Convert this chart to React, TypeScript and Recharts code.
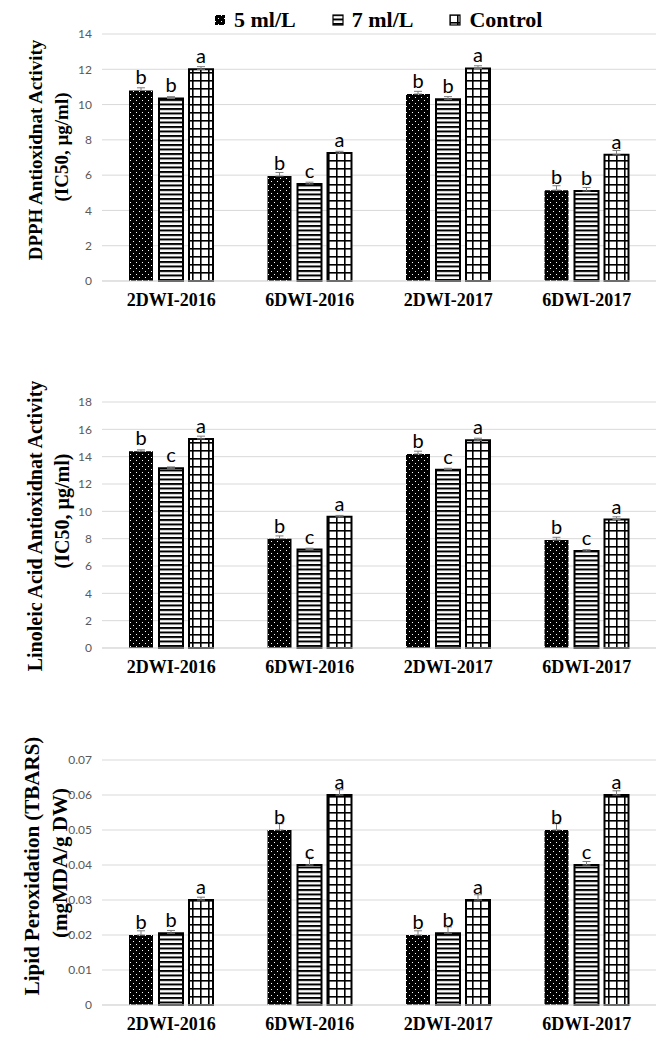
import React from "react";
import { BarChart, Bar, XAxis, YAxis, CartesianGrid, ErrorBar, LabelList } from "recharts";

const categories = ["2DWI-2016", "6DWI-2016", "2DWI-2017", "6DWI-2017"];
const seriesNames = ["5 ml/L", "7 ml/L", "Control"];

// DPPH antioxidant activity (IC50, µg/ml)
const dpph5 = [10.8, 5.95, 10.6, 5.15];
const dpph7 = [10.35, 5.5, 10.3, 5.1];
const dpphCtrl = [12.0, 7.25, 12.05, 7.15];
const dpphErr5 = [0.15, 0.2, 0.15, 0.25];
const dpphErr7 = [0.1, 0.1, 0.15, 0.2];
const dpphErrCtrl = [0.15, 0.1, 0.15, 0.25];
const dpphLet5 = ["b", "b", "b", "b"];
const dpphLet7 = ["b", "c", "b", "b"];
const dpphLetCtrl = ["a", "a", "a", "a"];
const dpphTicks = [0, 2, 4, 6, 8, 10, 12, 14];

// Linoleic acid antioxidant activity (IC50, µg/ml)
const lin5 = [14.4, 8.0, 14.2, 7.9];
const lin7 = [13.15, 7.2, 13.05, 7.1];
const linCtrl = [15.3, 9.6, 15.2, 9.4];
const linErr5 = [0.1, 0.2, 0.2, 0.2];
const linErr7 = [0.1, 0.1, 0.1, 0.1];
const linErrCtrl = [0.2, 0.1, 0.15, 0.2];
const linLet5 = ["b", "b", "b", "b"];
const linLet7 = ["c", "c", "c", "c"];
const linLetCtrl = ["a", "a", "a", "a"];
const linTicks = [0, 2, 4, 6, 8, 10, 12, 14, 16, 18];

// Lipid peroxidation (TBARS, mgMDA/g DW)
const tb5 = [0.02, 0.05, 0.02, 0.05];
const tb7 = [0.0205, 0.04, 0.0205, 0.04];
const tbCtrl = [0.03, 0.06, 0.03, 0.06];
const tbErr5 = [0.0012, 0.0018, 0.0012, 0.0018];
const tbErr7 = [0.0008, 0.0022, 0.0018, 0.001];
const tbErrCtrl = [0.0008, 0.0015, 0.0015, 0.0012];
const tbLet5 = ["b", "b", "b", "b"];
const tbLet7 = ["b", "c", "b", "c"];
const tbLetCtrl = ["a", "a", "a", "a"];
const tbTicks = [0, 0.01, 0.02, 0.03, 0.04, 0.05, 0.06, 0.07];

function buildRows(v5, v7, vc, e5, e7, ec, l5, l7, lc) {
  return categories.map((name, i) => ({
    name,
    v5: v5[i],
    v7: v7[i],
    vc: vc[i],
    e5: [0, e5[i]],
    e7: [0, e7[i]],
    ec: [0, ec[i]],
    l5: l5[i],
    l7: l7[i],
    lc: lc[i],
  }));
}

const serif = "'Liberation Serif', 'Times New Roman', serif";
const sans = "Lato, 'Open Sans', sans-serif";
const gridColor = "#d9d9d9";

function Patterns() {
  return (
    <svg width={0} height={0} style={{ position: "absolute" }}>
      <defs>
        <pattern id="pDots" width={6} height={6} patternUnits="userSpaceOnUse">
          <rect width={6} height={6} fill="#000" />
          <rect x={1} y={1} width={1} height={1} fill="#fff" />
          <rect x={4} y={4} width={1} height={1} fill="#fff" />
        </pattern>
        <pattern id="pLines" width={6} height={4.5} patternUnits="userSpaceOnUse">
          <rect width={6} height={4.5} fill="#fff" />
          <rect y={0} width={6} height={2} fill="#000" />
        </pattern>
        <pattern id="pGrid" width={8} height={8} patternUnits="userSpaceOnUse">
          <rect width={8} height={8} fill="#fff" />
          <rect x={0} y={0} width={1.6} height={8} fill="#000" />
          <rect x={0} y={0} width={8} height={1.6} fill="#000" />
        </pattern>
      </defs>
    </svg>
  );
}

const fills = ["url(#pDots)", "url(#pLines)", "url(#pGrid)"];

function YTitle({ lines, size }) {
  return (
    <g>
      {lines.map((l, i) => (
        <text
          key={i}
          x={l.x}
          y={l.cy}
          transform={`rotate(-90 ${l.x} ${l.cy})`}
          textAnchor="middle"
          dominantBaseline="central"
          fontFamily={serif}
          fontWeight="bold"
          fontSize={size}
          fill="#000"
        >
          {l.text}
        </text>
      ))}
    </g>
  );
}

function Panel({ rows, ticks, top, height, marginTop, marginBottom, titleLines, titleSize }) {
  const keys = [
    ["v5", "e5", "l5"],
    ["v7", "e7", "l7"],
    ["vc", "ec", "lc"],
  ];
  return (
    <div style={{ position: "absolute", left: 0, top, width: 658, height }}>
      <BarChart
        width={658}
        height={height}
        data={rows}
        margin={{ top: marginTop, right: 2, bottom: marginBottom, left: 0 }}
        barSize={24}
        barGap={6}
      >
        <CartesianGrid vertical={false} stroke={gridColor} strokeWidth={1} />
        <XAxis
          dataKey="name"
          height={30}
          tickLine={false}
          axisLine={{ stroke: gridColor }}
          tickMargin={6}
          tick={{ fill: "#000", fontSize: 18, fontWeight: "bold", fontFamily: serif }}
          interval={0}
        />
        <YAxis
          width={102}
          ticks={ticks}
          domain={[ticks[0], ticks[ticks.length - 1]]}
          axisLine={false}
          tickLine={false}
          tickMargin={4}
          tick={{ fill: "#595959", fontSize: 12, fontFamily: sans }}
          interval={0}
          label={<YTitle lines={titleLines} size={titleSize} />}
        />
        {keys.map(([v, e, l], i) => (
          <Bar
            key={v}
            dataKey={v}
            name={seriesNames[i]}
            fill={fills[i]}
            stroke="#000"
            strokeWidth={i === 0 ? 0 : 2}
            isAnimationActive={false}
          >
            <ErrorBar dataKey={e} width={4} stroke="#7f7f7f" strokeWidth={1} direction="y" />
            <LabelList
              dataKey={l}
              position="top"
              offset={6}
              fill="#000"
              fontSize={20}
              fontFamily={sans}
            />
          </Bar>
        ))}
      </BarChart>
    </div>
  );
}

function LegendSwatch({ fill, border }) {
  return (
    <svg width={12} height={12} style={{ display: "block" }}>
      <rect x={1} y={1} width={10} height={10} fill={fill} stroke="#000" strokeWidth={border ? 1.2 : 0} />
    </svg>
  );
}

export default function App() {
  const dpphRows = buildRows(dpph5, dpph7, dpphCtrl, dpphErr5, dpphErr7, dpphErrCtrl, dpphLet5, dpphLet7, dpphLetCtrl);
  const linRows = buildRows(lin5, lin7, linCtrl, linErr5, linErr7, linErrCtrl, linLet5, linLet7, linLetCtrl);
  const tbRows = buildRows(tb5, tb7, tbCtrl, tbErr5, tbErr7, tbErrCtrl, tbLet5, tbLet7, tbLetCtrl);

  return (
    <div style={{ position: "absolute", left: 0, top: 0, width: 658, height: 1044, background: "#fff" }}>
      <Patterns />
      <div
        style={{
          position: "absolute",
          left: 214,
          top: 8,
          display: "flex",
          alignItems: "center",
          fontFamily: serif,
          fontWeight: "bold",
          fontSize: 22,
          lineHeight: "24px",
          zIndex: 2,
        }}
      >
        {seriesNames.map((s, i) => (
          <div key={s} style={{ display: "flex", alignItems: "center", marginRight: 36 }}>
            <LegendSwatch fill={fills[i]} border={i > 0} />
            <span style={{ marginLeft: 8 }}>{s}</span>
          </div>
        ))}
      </div>
      <Panel
        rows={dpphRows}
        ticks={dpphTicks}
        top={0}
        height={320}
        marginTop={34}
        marginBottom={9}
        titleSize={19}
        titleLines={[
          { text: "DPPH Antioxidnat Activity", x: 35, cy: 150 },
          { text: "(IC50, µg/ml)", x: 61, cy: 147 },
        ]}
      />
      <Panel
        rows={linRows}
        ticks={linTicks}
        top={330}
        height={360}
        marginTop={72}
        marginBottom={12}
        titleSize={20}
        titleLines={[
          { text: "Linoleic Acid Antioxidnat Activity", x: 35, cy: 196 },
          { text: "(IC50, µg/ml)", x: 62, cy: 181 },
        ]}
      />
      <Panel
        rows={tbRows}
        ticks={tbTicks}
        top={700}
        height={344}
        marginTop={60}
        marginBottom={9}
        titleSize={21}
        titleLines={[
          { text: "Lipid Peroxidation (TBARS)", x: 32, cy: 166 },
          { text: "(mgMDA/g DW)", x: 60, cy: 163 },
        ]}
      />
    </div>
  );
}
